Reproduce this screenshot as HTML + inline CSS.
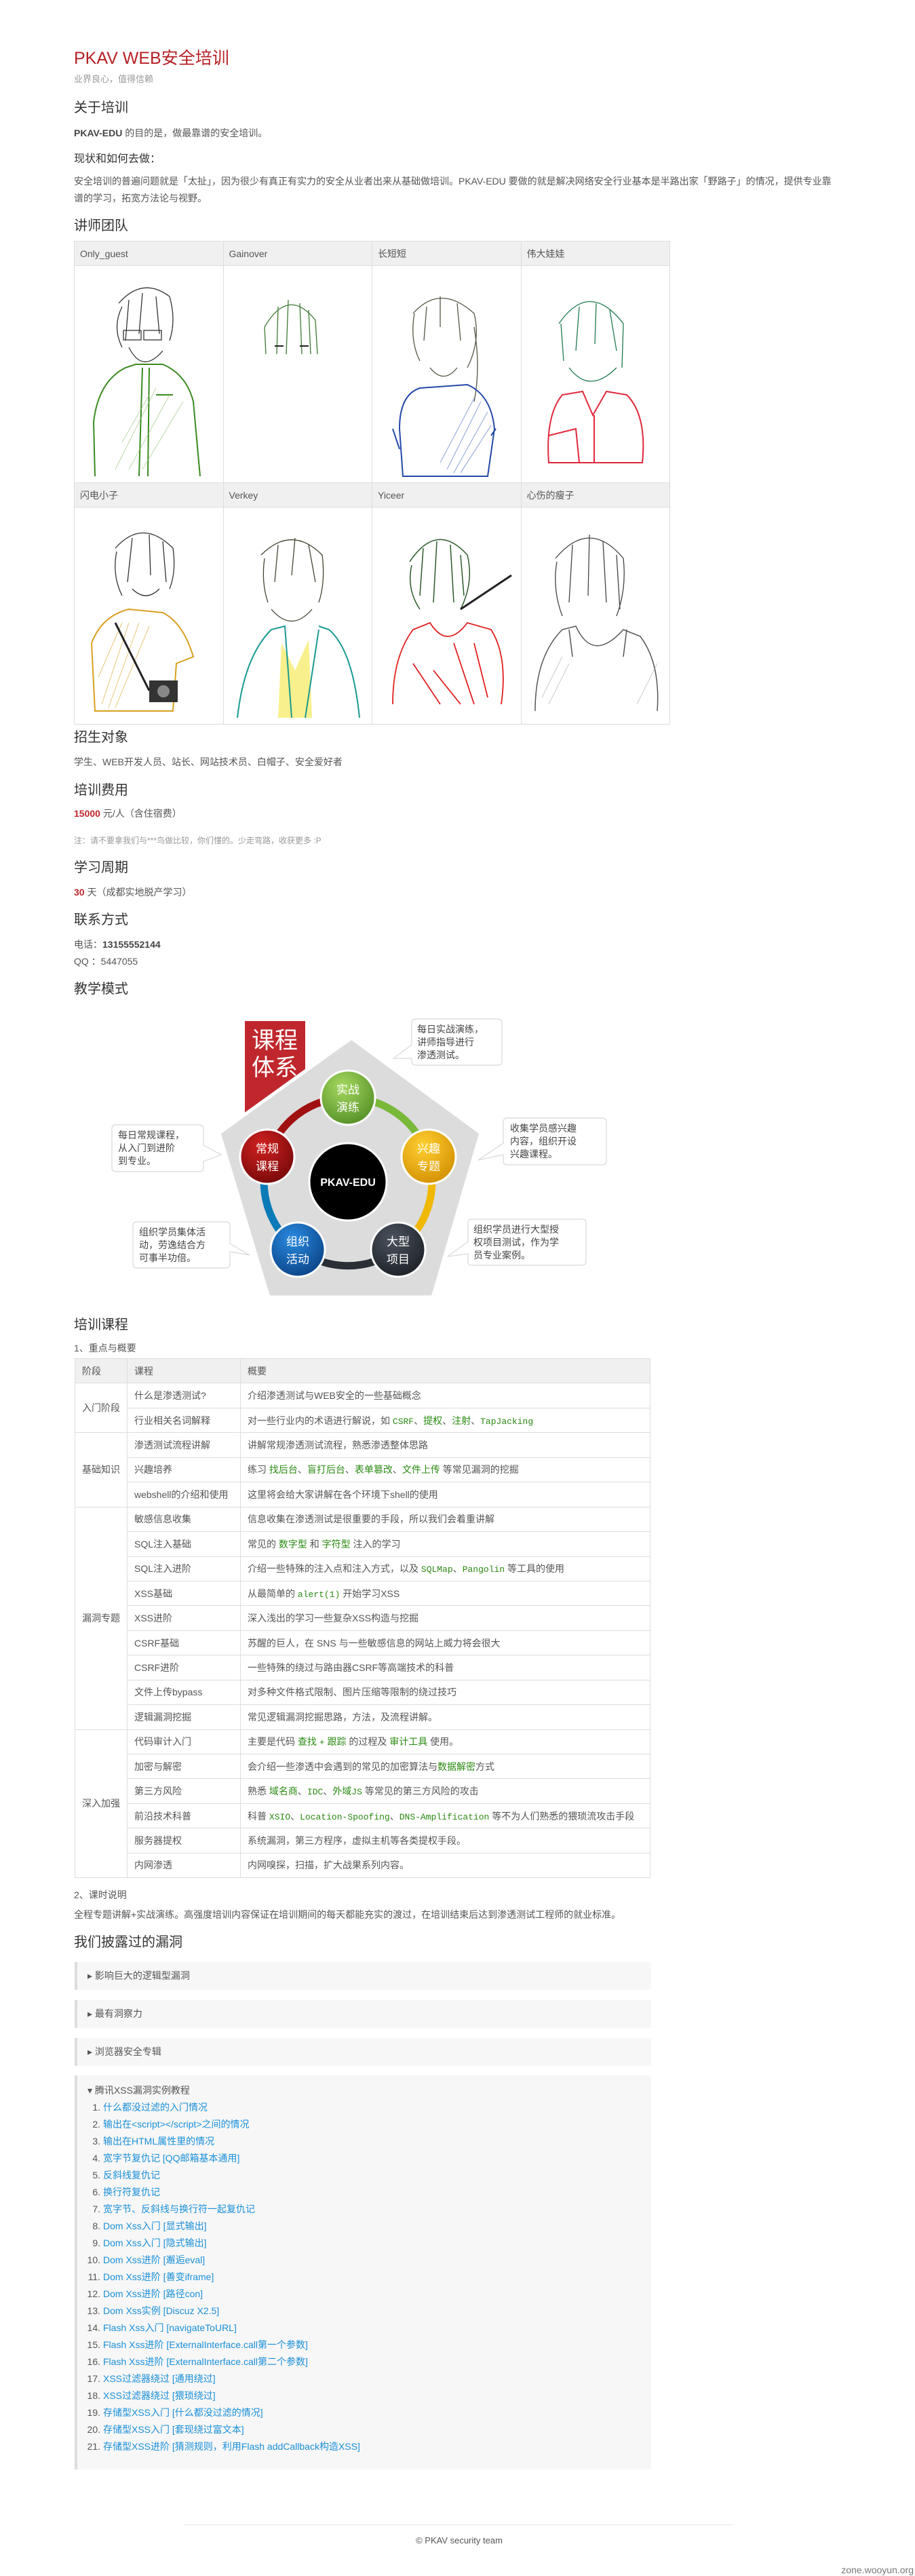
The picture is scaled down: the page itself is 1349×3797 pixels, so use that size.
<!DOCTYPE html>
<html><head><meta charset="utf-8">
<style>
*{margin:0;padding:0;box-sizing:border-box}
body{width:1349px;height:3797px;position:relative;background:#fff;font-family:"Liberation Sans","Noto Sans CJK SC",sans-serif;color:#555;overflow:hidden}
.a{position:absolute;white-space:nowrap}
h2{position:absolute;font-weight:normal;font-size:20px;color:#333;line-height:24px;white-space:nowrap}
.p{font-size:14px;line-height:20px}
.red{color:#c0272d;font-weight:bold}
table{border-collapse:collapse}
.tt{position:absolute;left:109px;top:355px;width:879px;table-layout:fixed}
.tt td{border:1px solid #ddd;vertical-align:top;padding:0}
.tt .hd td{background:#f0f0f0;height:36px;font-size:14px;color:#555;padding:0 8px;vertical-align:middle}
.tt .im td{height:315px}
.ct{position:absolute;left:110px;top:2002px;width:849px;table-layout:fixed;font-size:14px}
.ct td{border:1px solid #ddd;height:36.45px;padding:0 10px;vertical-align:middle;white-space:nowrap;color:#555}
.ct tr.h td{background:#f0f0f0}
.g{color:#2a8a12}
.m{font-family:"Liberation Mono",monospace;color:#2a8a12;font-size:13px}
.box{position:absolute;left:110px;width:850px;background:#f7f7f7;border-left:4px solid #ddd}
.box .s{position:absolute;left:15px;top:0;font-size:14px;color:#555;white-space:nowrap}
.li{position:absolute;font-size:14px;line-height:20px;white-space:nowrap;color:#1a8fd8}
.li b{font-weight:normal;color:#555;display:inline-block;width:22px;text-align:right;margin-right:4px}
</style></head><body>

<div class="a" style="left:109px;top:70px;font-size:25px;color:#b52025;line-height:32px">PKAV WEB安全培训</div>
<div class="a" style="left:109px;top:108px;font-size:13px;color:#999;line-height:18px">业界良心，值得信赖</div>
<h2 style="left:109px;top:147px">关于培训</h2>
<div class="a p" style="left:109px;top:186px"><b style="color:#444">PKAV-EDU</b> 的目的是，做最靠谱的安全培训。</div>
<div class="a" style="left:109px;top:225px;font-size:16px;color:#333;line-height:20px">现状和如何去做：</div>
<div class="a p" style="left:109px;top:255px;line-height:25px">安全培训的普遍问题就是「太扯」，因为很少有真正有实力的安全从业者出来从基础做培训。PKAV-EDU 要做的就是解决网络安全行业基本是半路出家「野路子」的情况，提供专业靠<br>谱的学习，拓宽方法论与视野。</div>
<h2 style="left:109px;top:321px">讲师团队</h2>

<table class="tt">
<tr class="hd"><td>Only_guest</td><td>Gainover</td><td>长短短</td><td>伟大娃娃</td></tr>
<tr class="im">
<td><svg width="218" height="314"><g fill="none" stroke="#333" stroke-width="1.3"><path d="M65 55 Q100 15 140 45 Q150 80 140 110 M70 60 Q55 90 70 120 M80 50 L75 110 M100 40 L95 100 M120 45 L125 100"/><rect x="72" y="95" width="26" height="14"/><rect x="102" y="95" width="26" height="14"/><path d="M80 120 Q100 160 130 125"/></g><g fill="none" stroke="#3a8a20" stroke-width="2"><path d="M30 310 L28 230 Q35 170 75 150 L90 145 L130 145 Q165 160 175 200 L185 310"/><path d="M100 150 L95 310 M110 150 L108 310"/><path d="M120 190 L145 190"/></g><g stroke="#8fbf70" stroke-width="1" opacity=".6"><path d="M60 300 L120 180 M80 300 L140 190 M100 300 L160 200 M70 260 L110 190"/></g></svg></td>
<td><svg width="218" height="314"><g fill="none" stroke="#3a7a30" stroke-width="1.3"><path d="M60 90 Q95 30 135 80 M60 90 L62 130 M135 80 L138 130 M80 60 L78 130 M95 50 L92 130 M112 55 L115 130 M125 65 L128 130"/></g><g stroke="#222" stroke-width="2"><path d="M75 118 L88 118 M112 118 L125 118"/></g></svg></td>
<td><svg width="218" height="314"><g fill="none" stroke="#554" stroke-width="1.3"><path d="M60 70 Q100 25 150 70 Q160 110 140 150 M62 70 Q55 110 70 140 M80 60 L76 110 M100 45 L100 90 M125 55 L130 110 M150 90 Q160 150 150 200"/><path d="M85 150 Q105 175 125 150"/></g><g fill="none" stroke="#2448a8" stroke-width="2"><path d="M40 240 Q40 190 70 180 L140 175 Q175 190 180 240 L170 310 L45 310 Z"/><path d="M30 240 L40 270 M182 240 L175 250"/></g><g stroke="#4060c0" stroke-width="1.2" opacity=".5"><path d="M110 300 L160 200 M120 305 L170 215 M130 305 L175 235 M100 290 L150 195"/></g></svg></td>
<td><svg width="218" height="314"><g fill="none" stroke="#1f7a50" stroke-width="1.3"><path d="M55 85 Q100 20 150 85 M58 85 L62 140 M150 85 L148 150 M85 60 L80 125 M110 55 L108 115 M130 65 L140 125"/><path d="M70 150 Q100 190 140 150"/></g><g fill="none" stroke="#e0283a" stroke-width="2"><path d="M40 290 Q35 220 60 190 L90 185 L105 220 L125 185 L155 190 Q185 220 178 290 Z"/><path d="M107 220 L107 290 M40 250 L80 240 L85 290"/></g></svg></td>
</tr>
<tr class="hd"><td>闪电小子</td><td>Verkey</td><td>Yiceer</td><td>心伤的瘦子</td></tr>
<tr class="im">
<td><svg width="218" height="314"><g fill="none" stroke="#333" stroke-width="1.3"><path d="M60 60 Q100 15 145 60 Q150 95 140 120 M62 65 Q55 100 70 130 M85 45 L78 110 M110 40 L112 100 M130 50 L135 110"/><path d="M85 120 Q105 140 125 120"/></g><g fill="none" stroke="#d8a020" stroke-width="2"><path d="M30 300 L25 200 Q40 160 80 150 L130 155 Q160 170 175 220 L150 230 L145 300 Z"/></g><g stroke="#d8a020" stroke-width="1" opacity=".6"><path d="M40 290 L80 170 M50 295 L95 170 M60 295 L110 175 M35 250 L70 170"/></g><path d="M60 170 L110 270" stroke="#222" stroke-width="3"/><rect x="110" y="255" width="42" height="32" fill="#333"/><circle cx="131" cy="271" r="9" fill="#888"/></svg></td>
<td><svg width="218" height="314"><g fill="none" stroke="#443" stroke-width="1.3"><path d="M55 70 Q100 25 145 70 Q150 110 140 140 M60 75 Q55 110 65 140 M80 55 L75 110 M105 45 L100 100 M125 55 L135 110"/><path d="M70 150 Q100 185 130 150"/></g><path d="M85 200 L105 240 L125 195 L130 310 L80 310 Z" fill="#f6ec70" opacity=".8"/><g fill="none" stroke="#1a9a90" stroke-width="2"><path d="M20 310 Q30 220 70 180 L90 175 L100 310 M140 175 L155 180 Q190 210 200 310 M120 310 L140 180"/></g></svg></td>
<td><svg width="218" height="314"><g fill="none" stroke="#2a5a2a" stroke-width="1.5"><path d="M55 80 Q95 20 140 70 Q150 110 130 150 M58 85 Q50 120 70 150 M75 60 L70 130 M95 50 L90 140 M115 55 L120 140 M130 70 L135 130"/></g><path d="M130 150 L205 100" stroke="#222" stroke-width="3"/><g fill="none" stroke="#e02020" stroke-width="1.8"><path d="M30 290 Q30 220 60 180 L85 170 Q110 210 140 170 L175 180 Q200 220 190 290 M60 230 L100 290 M120 200 L150 290 M150 200 L170 280 M90 240 L130 290"/></g></svg></td>
<td><svg width="218" height="314"><g fill="none" stroke="#444" stroke-width="1.3"><path d="M50 75 Q100 15 150 75 Q155 120 140 160 M52 80 Q45 120 60 160 M75 55 L70 140 M100 40 L98 130 M120 50 L125 140 M140 70 L145 150"/></g><g fill="none" stroke="#555" stroke-width="1.5"><path d="M20 300 Q20 220 60 180 L80 175 Q105 230 150 180 L175 190 Q205 230 200 300 M70 180 L75 220 M155 180 L150 220"/></g><g stroke="#999" stroke-width="1" opacity=".5"><path d="M30 280 L60 220 M170 290 L200 230 M40 290 L70 230"/></g></svg></td>
</tr>
</table>

<h2 style="left:109px;top:1075px">招生对象</h2>
<div class="a p" style="left:109px;top:1113px">学生、WEB开发人员、站长、网站技术员、白帽子、安全爱好者</div>
<h2 style="left:109px;top:1153px">培训费用</h2>
<div class="a p" style="left:109px;top:1189px"><span class="red">15000</span> 元/人（含住宿费）</div>
<div class="a" style="left:109px;top:1231px;font-size:12px;color:#999;line-height:16px">注：请不要拿我们与***鸟做比较，你们懂的。少走弯路，收获更多 :P</div>
<h2 style="left:109px;top:1267px">学习周期</h2>
<div class="a p" style="left:109px;top:1305px"><span class="red">30</span> 天（成都实地脱产学习）</div>
<h2 style="left:109px;top:1344px">联系方式</h2>
<div class="a p" style="left:109px;top:1382px">电话：<b style="color:#444">13155552144</b></div>
<div class="a p" style="left:109px;top:1407px">QQ ：5447055</div>
<h2 style="left:109px;top:1446px">教学模式</h2>

<svg class="a" style="left:0;top:1480px" width="1000" height="460" viewBox="0 1480 1000 460">
<defs>
<radialGradient id="gG" cx=".4" cy=".3" r=".8"><stop offset="0" stop-color="#a6d860"/><stop offset="1" stop-color="#4e8a22"/></radialGradient>
<radialGradient id="gR" cx=".4" cy=".3" r=".8"><stop offset="0" stop-color="#d02020"/><stop offset="1" stop-color="#700808"/></radialGradient>
<radialGradient id="gY" cx=".4" cy=".3" r=".8"><stop offset="0" stop-color="#ffd030"/><stop offset="1" stop-color="#d08a00"/></radialGradient>
<radialGradient id="gB" cx=".4" cy=".3" r=".8"><stop offset="0" stop-color="#2a8ae0"/><stop offset="1" stop-color="#083e80"/></radialGradient>
<radialGradient id="gD" cx=".4" cy=".3" r=".8"><stop offset="0" stop-color="#4a525c"/><stop offset="1" stop-color="#1a1e24"/></radialGradient>
</defs>
<rect x="361" y="1505" width="89" height="140" fill="#c0272d"/>
<text x="405" y="1545" font-size="34" fill="#fff" text-anchor="middle" font-family="Liberation Sans,Noto Sans CJK SC,sans-serif">课程</text>
<text x="405" y="1585" font-size="34" fill="#fff" text-anchor="middle" font-family="Liberation Sans,Noto Sans CJK SC,sans-serif">体系</text>
<polygon points="518,1530 709,1670 638,1912 396,1912 323,1670" fill="#dcdcdc" stroke="#fff" stroke-width="5"/>
<g fill="none" stroke-width="11">
<path d="M395 1704 A124 124 0 0 1 513 1618" stroke="#a01010"/>
<path d="M513 1618 A124 124 0 0 1 631 1704" stroke="#7ab83a"/>
<path d="M631 1704 A124 124 0 0 1 586 1842" stroke="#f0b800"/>
<path d="M586 1842 A124 124 0 0 1 440 1842" stroke="#2a2f36"/>
<path d="M440 1842 A124 124 0 0 1 395 1704" stroke="#0a7ab8"/>
</g>
<circle cx="513" cy="1742" r="57" fill="#000" stroke="#fff" stroke-width="3"/>
<text x="513" y="1748" font-size="16" font-weight="bold" fill="#fff" text-anchor="middle" font-family="Liberation Sans,sans-serif">PKAV-EDU</text>
<g stroke="#fff" stroke-width="3">
<circle cx="513" cy="1618" r="40" fill="url(#gG)"/>
<circle cx="394" cy="1705" r="40" fill="url(#gR)"/>
<circle cx="632" cy="1705" r="40" fill="url(#gY)"/>
<circle cx="439" cy="1842" r="40" fill="url(#gB)"/>
<circle cx="587" cy="1842" r="40" fill="url(#gD)"/>
</g>
<g font-size="17" fill="#fff" text-anchor="middle" font-family="Liberation Sans,Noto Sans CJK SC,sans-serif">
<text x="513" y="1612">实战</text><text x="513" y="1638">演练</text>
<text x="394" y="1699">常规</text><text x="394" y="1725">课程</text>
<text x="632" y="1699">兴趣</text><text x="632" y="1725">专题</text>
<text x="439" y="1836">组织</text><text x="439" y="1862">活动</text>
<text x="587" y="1836">大型</text><text x="587" y="1862">项目</text>
</g>
<g fill="#fff" stroke="#d8d8d8" stroke-width="1.2">
<path d="M613 1502 H734 Q740 1502 740 1508 V1564 Q740 1570 734 1570 H613 Q607 1570 607 1564 V1560 L580 1560 L607 1540 V1508 Q607 1502 613 1502Z"/>
<path d="M748 1648 H888 Q894 1648 894 1654 V1711 Q894 1717 888 1717 H748 Q742 1717 742 1711 V1702 L705 1710 L742 1685 V1654 Q742 1648 748 1648Z"/>
<path d="M171 1658 H294 Q300 1658 300 1664 V1688 L326 1702 L300 1712 V1721 Q300 1727 294 1727 H171 Q165 1727 165 1721 V1664 Q165 1658 171 1658Z"/>
<path d="M202 1801 H333 Q339 1801 339 1807 V1833 L368 1850 L339 1845 V1863 Q339 1869 333 1869 H202 Q196 1869 196 1863 V1807 Q196 1801 202 1801Z"/>
<path d="M696 1797 H858 Q864 1797 864 1803 V1859 Q864 1865 858 1865 H696 Q690 1865 690 1859 V1848 L660 1852 L690 1830 V1803 Q690 1797 696 1797Z"/>
</g>
<g font-size="14" fill="#444" font-family="Liberation Sans,Noto Sans CJK SC,sans-serif">
<text x="615" y="1522">每日实战演练，</text><text x="615" y="1541">讲师指导进行</text><text x="615" y="1560">渗透测试。</text>
<text x="752" y="1668">收集学员感兴趣</text><text x="752" y="1687">内容，组织开设</text><text x="752" y="1706">兴趣课程。</text>
<text x="174" y="1678">每日常规课程，</text><text x="174" y="1697">从入门到进阶</text><text x="174" y="1716">到专业。</text>
<text x="205" y="1821">组织学员集体活</text><text x="205" y="1840">动，劳逸结合方</text><text x="205" y="1859">可事半功倍。</text>
<text x="698" y="1817">组织学员进行大型授</text><text x="698" y="1836">权项目测试，作为学</text><text x="698" y="1855">员专业案例。</text>
</g>
</svg>

<h2 style="left:109px;top:1941px">培训课程</h2>
<div class="a p" style="left:109px;top:1977px">1、重点与概要</div>

<table class="ct">
<colgroup><col style="width:77px"><col style="width:167px"><col></colgroup>
<tr class="h"><td>阶段</td><td>课程</td><td>概要</td></tr>
<tr><td rowspan="2">入门阶段</td><td>什么是渗透测试?</td><td>介绍渗透测试与WEB安全的一些基础概念</td></tr>
<tr><td>行业相关名词解释</td><td>对一些行业内的术语进行解说，如 <span class="m">CSRF</span>、<span class="g">提权</span>、<span class="g">注射</span>、<span class="m">TapJacking</span></td></tr>
<tr><td rowspan="3">基础知识</td><td>渗透测试流程讲解</td><td>讲解常规渗透测试流程，熟悉渗透整体思路</td></tr>
<tr><td>兴趣培养</td><td>练习 <span class="g">找后台</span>、<span class="g">盲打后台</span>、<span class="g">表单篡改</span>、<span class="g">文件上传</span> 等常见漏洞的挖掘</td></tr>
<tr><td>webshell的介绍和使用</td><td>这里将会给大家讲解在各个环境下shell的使用</td></tr>
<tr><td rowspan="9">漏洞专题</td><td>敏感信息收集</td><td>信息收集在渗透测试是很重要的手段，所以我们会着重讲解</td></tr>
<tr><td>SQL注入基础</td><td>常见的 <span class="g">数字型</span> 和 <span class="g">字符型</span> 注入的学习</td></tr>
<tr><td>SQL注入进阶</td><td>介绍一些特殊的注入点和注入方式，以及 <span class="m">SQLMap</span>、<span class="m">Pangolin</span> 等工具的使用</td></tr>
<tr><td>XSS基础</td><td>从最简单的 <span class="m">alert(1)</span> 开始学习XSS</td></tr>
<tr><td>XSS进阶</td><td>深入浅出的学习一些复杂XSS构造与挖掘</td></tr>
<tr><td>CSRF基础</td><td>苏醒的巨人，在 SNS 与一些敏感信息的网站上威力将会很大</td></tr>
<tr><td>CSRF进阶</td><td>一些特殊的绕过与路由器CSRF等高端技术的科普</td></tr>
<tr><td>文件上传bypass</td><td>对多种文件格式限制、图片压缩等限制的绕过技巧</td></tr>
<tr><td>逻辑漏洞挖掘</td><td>常见逻辑漏洞挖掘思路，方法，及流程讲解。</td></tr>
<tr><td rowspan="6">深入加强</td><td>代码审计入门</td><td>主要是代码 <span class="g">查找</span> <span class="m">+</span> <span class="g">跟踪</span> 的过程及 <span class="g">审计工具</span> 使用。</td></tr>
<tr><td>加密与解密</td><td>会介绍一些渗透中会遇到的常见的加密算法与<span class="g">数据解密</span>方式</td></tr>
<tr><td>第三方风险</td><td>熟悉 <span class="g">域名商</span>、<span class="m">IDC</span>、<span class="g">外域</span><span class="m">JS</span> 等常见的第三方风险的攻击</td></tr>
<tr><td>前沿技术科普</td><td>科普 <span class="m">XSIO</span>、<span class="m">Location-Spoofing</span>、<span class="m">DNS-Amplification</span> 等不为人们熟悉的猥琐流攻击手段</td></tr>
<tr><td>服务器提权</td><td>系统漏洞，第三方程序，虚拟主机等各类提权手段。</td></tr>
<tr><td>内网渗透</td><td>内网嗅探，扫描，扩大战果系列内容。</td></tr>
</table>

<div class="a p" style="left:109px;top:2783px">2、课时说明</div>
<div class="a p" style="left:109px;top:2812px">全程专题讲解+实战演练。高强度培训内容保证在培训期间的每天都能充实的渡过，在培训结束后达到渗透测试工程师的就业标准。</div>
<h2 style="left:109px;top:2851px">我们披露过的漏洞</h2>

<div class="box" style="top:2892px;height:41px"><div class="s" style="top:10px">▸ 影响巨大的逻辑型漏洞</div></div>
<div class="box" style="top:2948px;height:41px"><div class="s" style="top:10px">▸ 最有洞察力</div></div>
<div class="box" style="top:3004px;height:41px"><div class="s" style="top:10px">▸ 浏览器安全专辑</div></div>
<div class="box" style="top:3059px;height:581px"><div class="s" style="top:12px">▾ 腾讯XSS漏洞实例教程</div></div>

<div class="li" style="left:126px;top:3096px"><b>1.</b>什么都没过滤的入门情况</div>
<div class="li" style="left:126px;top:3121px"><b>2.</b>输出在&lt;script&gt;&lt;/script&gt;之间的情况</div>
<div class="li" style="left:126px;top:3146px"><b>3.</b>输出在HTML属性里的情况</div>
<div class="li" style="left:126px;top:3171px"><b>4.</b>宽字节复仇记 [QQ邮箱基本通用]</div>
<div class="li" style="left:126px;top:3196px"><b>5.</b>反斜线复仇记</div>
<div class="li" style="left:126px;top:3221px"><b>6.</b>换行符复仇记</div>
<div class="li" style="left:126px;top:3246px"><b>7.</b>宽字节、反斜线与换行符一起复仇记</div>
<div class="li" style="left:126px;top:3271px"><b>8.</b>Dom Xss入门 [显式输出]</div>
<div class="li" style="left:126px;top:3296px"><b>9.</b>Dom Xss入门 [隐式输出]</div>
<div class="li" style="left:126px;top:3321px"><b>10.</b>Dom Xss进阶 [邂逅eval]</div>
<div class="li" style="left:126px;top:3346px"><b>11.</b>Dom Xss进阶 [善变iframe]</div>
<div class="li" style="left:126px;top:3371px"><b>12.</b>Dom Xss进阶 [路径con]</div>
<div class="li" style="left:126px;top:3396px"><b>13.</b>Dom Xss实例 [Discuz X2.5]</div>
<div class="li" style="left:126px;top:3421px"><b>14.</b>Flash Xss入门 [navigateToURL]</div>
<div class="li" style="left:126px;top:3446px"><b>15.</b>Flash Xss进阶 [ExternalInterface.call第一个参数]</div>
<div class="li" style="left:126px;top:3471px"><b>16.</b>Flash Xss进阶 [ExternalInterface.call第二个参数]</div>
<div class="li" style="left:126px;top:3496px"><b>17.</b>XSS过滤器绕过 [通用绕过]</div>
<div class="li" style="left:126px;top:3521px"><b>18.</b>XSS过滤器绕过 [猥琐绕过]</div>
<div class="li" style="left:126px;top:3546px"><b>19.</b>存储型XSS入门 [什么都没过滤的情况]</div>
<div class="li" style="left:126px;top:3571px"><b>20.</b>存储型XSS入门 [套现绕过富文本]</div>
<div class="li" style="left:126px;top:3596px"><b>21.</b>存储型XSS进阶 [猜测规则，利用Flash addCallback构造XSS]</div>

<div class="a" style="left:271px;top:3721px;width:809px;height:1px;background:#e5e5e5"></div>
<div class="a" style="left:0;width:1354px;text-align:center;top:3736px;font-size:13px;color:#555;line-height:18px">© PKAV security team</div>
<div class="a" style="right:2px;top:3779px;font-size:14px;color:#777;line-height:18px">zone.wooyun.org</div>
</body></html>
